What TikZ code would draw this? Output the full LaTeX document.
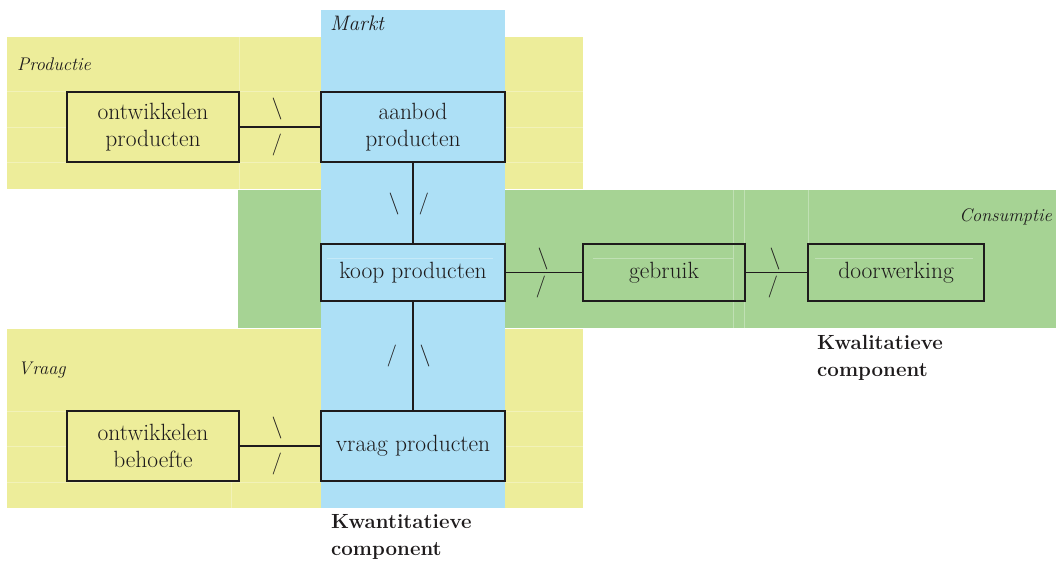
\documentclass[tikz,border=0pt]{standalone}
\usepackage{fontspec}
\definecolor{zoneyellow}{RGB}{237,237,154}
\definecolor{zoneblue}{RGB}{173,224,246}
\definecolor{zonegreen}{RGB}{166,211,148}
\definecolor{ink}{RGB}{30,27,28}
\begin{document}
\begin{tikzpicture}[x=1pt,y=-1pt,
  stage/.style={draw=ink, line width=1.8pt, inner sep=0pt, align=center, text=ink,
    font=\fontsize{23.5}{27}\selectfont},
  link/.style={draw=ink, line width=1.8pt},
  tick/.style={text=ink, inner sep=0pt, font=\fontsize{22}{27}\selectfont},
  zonelabel/.style={text=ink, inner sep=0pt, font=\fontsize{18.3}{21}\selectfont\itshape},
  compnote/.style={text=ink, inner sep=0pt, align=left, font=\fontsize{20.5}{27}\selectfont\bfseries},
  seam/.style={draw=white, opacity=0.3, line width=0.7pt}]
\useasboundingbox (0,0) rectangle (1056,560);

% background zones
\fill[zoneyellow] (7,37) rectangle (583,189);
\fill[zoneyellow] (7,329) rectangle (583,508);
\fill[zonegreen] (238,190) rectangle (1056,328);
% faint table seams
\draw[seam] (7,91) -- (583,91);
\draw[seam] (7,127) -- (67,127) (505,127) -- (583,127);
\draw[seam] (7,162) -- (583,162);
\draw[seam] (239,37) -- (239,189);
\draw[seam] (7,411) -- (67,411) (505,411) -- (583,411);
\draw[seam] (7,446) -- (67,446) (505,446) -- (583,446);
\draw[seam] (7,482) -- (583,482);
\draw[seam] (231,482) -- (231,508);
\draw[seam] (733,190) -- (733,328);
\draw[seam] (744,190) -- (744,328);
\draw[seam] (808,190) -- (808,244);
\fill[zoneblue] (321,10) rectangle (505,508);

% zone titles
\node[zonelabel, anchor=west, font=\fontsize{21}{24}\selectfont\itshape] (tmarkt) at (330,23) {Markt};
\node[zonelabel, anchor=west] (tprod) at (17,64) {Productie};
\node[zonelabel, anchor=west] (tvraag) at (18,370) {V\kern1pt raag};
\node[zonelabel, anchor=east] (tcons) at (1052,217) {Consumptie};

% stages
\node[stage, minimum width=172pt, minimum height=70pt] (op) at (153,127) {ontwikkelen\\producten};
\node[stage, minimum width=184pt, minimum height=70pt] (ap) at (413,127) {aanbod\\producten};
\node[stage, minimum width=184pt, minimum height=57pt] (kp) at (413,272.5) {koop producten};
\node[stage, minimum width=162pt, minimum height=57pt] (gb) at (664,272.5) {gebruik};
\node[stage, minimum width=176pt, minimum height=57pt] (dw) at (896,272.5) {doorwerking};
\node[stage, minimum width=172pt, minimum height=70pt] (ob) at (153,446) {ontwikkelen\\behoefte};
\node[stage, minimum width=184pt, minimum height=70pt] (vp) at (413,446) {vraag producten};

% ghost lines inside the middle boxes
\draw[seam] (327,258) -- (493,258);
\draw[seam] (593,258) -- (733,258);
\draw[seam] (815,258) -- (973,258);

% connectors
\draw[link] (op.east) -- (ap.west);
\draw[link] (ap.south) -- (kp.north);
\draw[link] (kp.south) -- (vp.north);
\draw[link] (ob.east) -- (vp.west);
\draw[link] (kp.east) -- (gb.west);
\draw[link] (gb.east) -- (dw.west);

% break marks on the connectors
\node[tick] (t1a) at (277,109) {\textbackslash};
\node[tick] (t1b) at (277,145) {/};
\node[tick] (t2a) at (394,204) {\textbackslash};
\node[tick] (t2b) at (424,204) {/};
\node[tick] (t3a) at (543,259) {\textbackslash};
\node[tick] (t3b) at (541,287) {/};
\node[tick] (t4a) at (775,259) {\textbackslash};
\node[tick] (t4b) at (773,287) {/};
\node[tick] (t5a) at (392,356) {/};
\node[tick] (t5b) at (425,356) {\textbackslash};
\node[tick] (t6a) at (277,428) {\textbackslash};
\node[tick] (t6b) at (277,464) {/};

% component notes
\node[compnote, anchor=west] (nkwal) at (817,358) {Kwalitatieve\\component};
\node[compnote, anchor=west] (nkwan) at (331,536.5) {Kwantitatieve\\component};
\end{tikzpicture}
\end{document}
